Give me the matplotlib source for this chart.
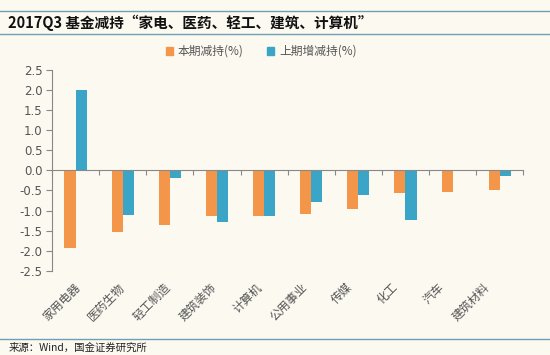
"""2017Q3 fund holdings reduction by industry."""

import matplotlib.pyplot as plt
import matplotlib.transforms as mtransforms
import numpy as np
from matplotlib.lines import Line2D
from matplotlib.patches import Patch

plt.rcParams["font.family"] = ["Noto Sans CJK SC", "DejaVu Sans"]

categories = ["家用电器", "医药生物", "轻工制造", "建筑装饰", "计算机",
              "公用事业", "传媒", "化工", "汽车", "建筑材料"]
current = [-1.93, -1.54, -1.35, -1.14, -1.13, -1.09, -0.97, -0.57, -0.54, -0.48]
previous = [2.01, -1.11, -0.20, -1.29, -1.13, -0.79, -0.62, -1.23, 0.0, -0.14]
series_names = ["本期减持(%)", "上期增减持(%)"]
yticks = [-2.5, -2.0, -1.5, -1.0, -0.5, 0.0, 0.5, 1.0, 1.5, 2.0, 2.5]

BG = "#FCF9F1"
ORANGE = "#F4964A"
BLUE = "#3AA5C6"
LINE = "#6E9FB3"
GREY = "#555555"

fig = plt.figure(figsize=(5.5, 3.55), dpi=100)
fig.patch.set_facecolor(BG)
ax = fig.add_axes([0.0945, 0.237, 0.857, 0.566])
ax.set_facecolor(BG)

x = np.arange(len(categories))
w = 0.235
ax.bar(x - w / 2, current, w, color=ORANGE, label=series_names[0])
ax.bar(x + w / 2, previous, w, color=BLUE, label=series_names[1])

ax.set_xlim(-0.5, len(categories) - 0.5)
ax.set_ylim(-2.5, 2.5)
ax.set_yticks(yticks)
ax.set_yticklabels([f"{v:.1f}" for v in yticks], fontsize=8.5, color=GREY,
                   family="DejaVu Sans")
ax.tick_params(axis="y", length=4, width=0.8, color="#888888", pad=3)

for s in ["top", "right"]:
    ax.spines[s].set_visible(False)
ax.spines["left"].set_color("#888888")
ax.spines["left"].set_linewidth(0.8)
ax.spines["bottom"].set_position(("data", 0))
ax.spines["bottom"].set_color("#888888")
ax.spines["bottom"].set_linewidth(0.8)
ax.set_xticks(np.arange(len(categories) + 1) - 0.5)
ax.set_xticklabels([])
ax.tick_params(axis="x", length=3.5, width=0.8, color="#888888", direction="out")

# category labels sit a little left of their bars, drifting further right-to-left
trans = mtransforms.blended_transform_factory(ax.transData, ax.transAxes)
for xi, name in zip(x, categories):
    ax.text(xi - 0.05 - 0.035 * xi, -0.05, name, transform=trans, rotation=45,
            ha="right", va="top", rotation_mode="anchor",
            fontsize=8.5, color=GREY)

handles = [Patch(color=ORANGE), Patch(color=BLUE)]
fig.legend(handles, series_names, loc="center", bbox_to_anchor=(0.475, 0.855),
           ncol=2, frameon=False, fontsize=8.5, handlelength=0.6,
           handleheight=0.6, columnspacing=2.0, handletextpad=0.4,
           labelcolor=GREY)

# title band and footer
fig.add_artist(Line2D([0, 1], [1 - 11 / 355, 1 - 11 / 355],
                      color=LINE, lw=1.0, transform=fig.transFigure))
fig.add_artist(Line2D([0, 1], [1 - 34 / 355, 1 - 34 / 355],
                      color=LINE, lw=1.0, transform=fig.transFigure))
fig.text(0.015, 1 - 22.5 / 355, "2017Q3 基金减持“家电、医药、轻工、建筑、计算机”",
         fontsize=10.5, fontweight="bold", fontstyle="italic",
         ha="left", va="center", color="#111111")
fig.add_artist(Line2D([0, 1], [1 - 339 / 355, 1 - 339 / 355],
                      color=LINE, lw=1.0, transform=fig.transFigure))
fig.text(0.015, 1 - 348 / 355, "来源：Wind，国金证券研究所", fontsize=7.5,
         ha="left", va="center", color="#222222")

fig.savefig("out.png", dpi=100, facecolor=BG)
